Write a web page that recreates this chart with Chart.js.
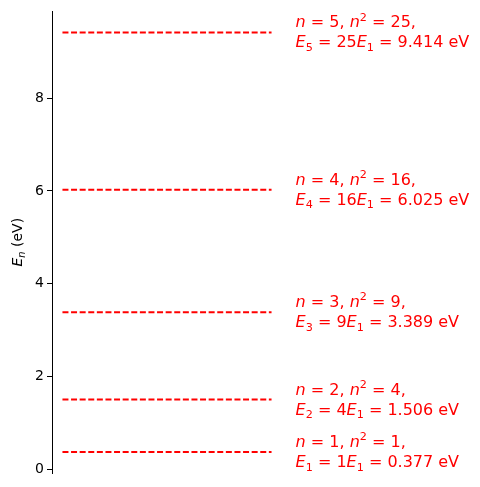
<!DOCTYPE html>
<html><head><meta charset="utf-8">
<script src="https://cdn.jsdelivr.net/npm/chart.js@4"></script>
<style>html,body{margin:0;padding:0;background:#fff}#wrap{width:480px;height:487px}</style>
</head><body><div id="wrap"><canvas id="c" width="480" height="487"></canvas></div>
<script>
const levels = [1, 2, 3, 4, 5];
const nSquared = [1, 4, 9, 16, 25];
const energies = [0.377, 1.506, 3.389, 6.025, 9.414];
const energyLabels = ["0.377", "1.506", "3.389", "6.025", "9.414"];
const yTicks = [0, 2, 4, 6, 8];
const yMin = -0.075, yMax = 9.866;
const FONT = '"DejaVu Sans", sans-serif';

const datasets = energies.map((e, i) => ({
  label: 'n=' + levels[i],
  data: [{x: 0, y: e}, {x: 1, y: e}],
  borderColor: '#ff0000',
  borderWidth: 2,
  borderDash: [6, 2.6],
  pointRadius: 0,
  fill: false
}));

function drawRich(ctx, segs, x, y, size) {
  let cx = x;
  for (const s of segs) {
    let sz = size, dy = 0;
    if (s.sub) { sz = size * 0.7; dy = size * 0.22; }
    if (s.sup) { sz = size * 0.7; dy = -size * 0.42; }
    ctx.font = (s.it ? 'italic ' : '') + sz + 'px ' + FONT;
    ctx.fillText(s.t, cx, y + dy);
    cx += ctx.measureText(s.t).width;
  }
}

const labelPlugin = {
  id: 'labels',
  afterDraw(chart) {
    const ctx = chart.ctx;
    const xs = chart.scales.x, ys = chart.scales.y;
    ctx.save();
    ctx.fillStyle = '#ff0000';
    ctx.textBaseline = 'alphabetic';
    ctx.textAlign = 'left';
    energies.forEach((e, i) => {
      const px = xs.getPixelForValue(1.115);
      const py = ys.getPixelForValue(e);
      const n = levels[i];
      drawRich(ctx, [
        {t: 'n', it: true}, {t: ' = ' + n + ', '}, {t: 'n', it: true}, {t: '2', sup: true}, {t: ' = ' + nSquared[i] + ','}
      ], px, py - 5, 16);
      drawRich(ctx, [
        {t: 'E', it: true}, {t: String(n), sub: true}, {t: ' = ' + nSquared[i]}, {t: 'E', it: true}, {t: '1', sub: true}, {t: ' = ' + energyLabels[i] + ' eV'}
      ], px, py + 15, 16);
    });
    // y-axis title
    const a = chart.chartArea;
    ctx.fillStyle = '#000';
    ctx.translate(22, (a.top + a.bottom) / 2);
    ctx.rotate(-Math.PI / 2);
    const segs = [{t: 'E', it: true}, {t: 'n', it: true, sub: true}, {t: ' (eV)'}];
    let w = 0;
    for (const s of segs) {
      const sz = s.sub ? 14 * 0.7 : 14;
      ctx.font = (s.it ? 'italic ' : '') + sz + 'px ' + FONT;
      w += ctx.measureText(s.t).width;
    }
    drawRich(ctx, segs, -w / 2, 0, 14);
    ctx.restore();
  }
};

new Chart(document.getElementById('c'), {
  type: 'line',
  data: { datasets },
  options: {
    responsive: false,
    animation: false,
    layout: { padding: { left: 0, right: 198, top: 11, bottom: 14 } },
    plugins: { legend: { display: false }, tooltip: { enabled: false } },
    scales: {
      x: { type: 'linear', min: -0.05, max: 1.05, display: false },
      y: {
        type: 'linear', min: yMin, max: yMax,
        afterFit(s) { s.width = 52; },
        afterBuildTicks(s) { s.ticks = yTicks.map(v => ({ value: v })); },
        grid: { display: true, drawOnChartArea: false, drawTicks: true, tickLength: 5, color: '#000', tickWidth: 1 },
        border: { display: true, color: '#000', width: 1 },
        ticks: { color: '#000', padding: 3, font: { family: FONT, size: 14 }, callback: v => String(v) },
        title: { display: false }
      }
    }
  },
  plugins: [labelPlugin]
});
</script></body></html>
